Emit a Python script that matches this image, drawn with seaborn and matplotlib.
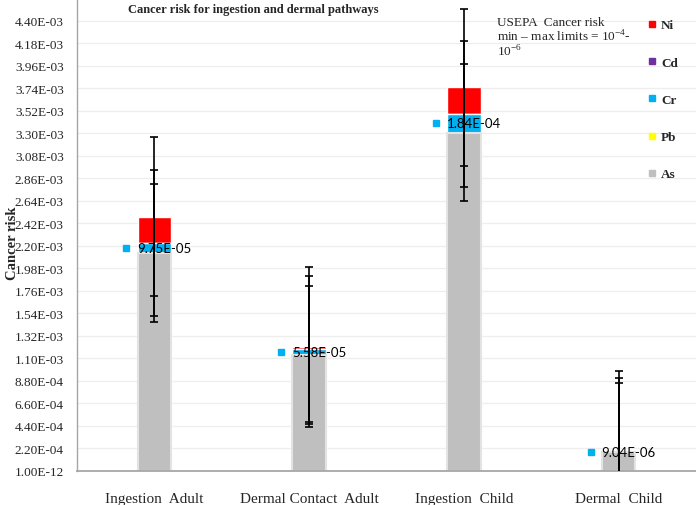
"""
plot.py

Stacked cancer risk bars (As, Pb, Cr, Cd, Ni) for ingestion and
dermal pathways, with error bars and Cr data labels.
"""

# =============================================================================
# IMPORTS
# =============================================================================

import numpy as np
import matplotlib
matplotlib.use("Agg")
import matplotlib.pyplot as plt
import matplotlib.transforms as mtransforms
from matplotlib.lines import Line2D
import seaborn as sns

# =============================================================================
# DATA
# =============================================================================

CATEGORIES = [
    "Ingestion  Adult",
    "Dermal Contact  Adult",
    "Ingestion  Child",
    "Dermal  Child",
]

# series values (stack order bottom -> top)
AS_RISK = [2.130e-3, 1.135e-3, 3.305e-3, 0.185e-3]
PB_RISK = [2.0e-6, 1.0e-6, 3.0e-6, 0.2e-6]
CR_RISK = [9.75e-5, 5.58e-5, 1.84e-4, 9.04e-6]
CD_RISK = [1.5e-6, 0.8e-6, 2.5e-6, 0.1e-6]
NI_RISK = [0.255e-3, 0.018e-3, 0.257e-3, 0.012e-3]

# error bar half widths (+/-) for As, Cr and Ni
AS_ERR = [0.674e-3, 0.675e-3, 0.670e-3, 0.675e-3]
CR_ERR = [0.713e-3, 0.710e-3, 0.711e-3, 0.710e-3]
NI_ERR = [0.777e-3, 0.780e-3, 0.767e-3, 0.770e-3]

CR_LABELS = ["9.75E-05", "5.58E-05", "1.84E-04", "9.04E-06"]

Y_TICKS = [1e-12] + [k * 2.2e-4 for k in range(1, 21)]

COLORS = {
    "As": "#BFBFBF",
    "Pb": "#FFFF00",
    "Cr": "#00B0F0",
    "Cd": "#7030A0",
    "Ni": "#FF0000",
}

# =============================================================================
# STYLE
# =============================================================================

sns.set_style("white")
plt.rcParams["font.family"] = ["Liberation Serif", "DejaVu Serif"]
plt.rcParams["mathtext.fontset"] = "custom"
plt.rcParams["mathtext.rm"] = "Liberation Serif"

W, H = 696, 506
fig = plt.figure(figsize=(W / 100, H / 100), dpi=100)

# plot area: left spine at x=77, bottom at y=472, top at image top
ax = fig.add_axes([77 / W, (H - 472) / H, (W - 77) / W, 472 / H])

BAR_WIDTH = 0.215

# =============================================================================
# STACKED BARS (drawn as cumulative overlapping bars)
# =============================================================================

as_v = np.array(AS_RISK)
pb_v = np.array(PB_RISK)
cr_v = np.array(CR_RISK)
cd_v = np.array(CD_RISK)
ni_v = np.array(NI_RISK)

cum_as = as_v
cum_pb = cum_as + pb_v
cum_cr = cum_pb + cr_v
cum_cd = cum_cr + cd_v
cum_ni = cum_cd + ni_v

layers = [
    (cum_ni, COLORS["Ni"], "white", 1.0),
    (cum_cd, COLORS["Cd"], "white", 1.0),
    (cum_cr, COLORS["Cr"], "white", 1.0),
    (cum_pb, COLORS["Pb"], "white", 1.0),
    (cum_as, COLORS["As"], "#E3E3E3", 1.5),
]

for values, color, edge, lw in layers:
    sns.barplot(
        x=CATEGORIES,
        y=values,
        color=color,
        saturation=1,
        width=BAR_WIDTH,
        edgecolor=edge,
        linewidth=lw,
        errorbar=None,
        ax=ax,
        zorder=2,
    )

# =============================================================================
# ERROR BARS
# =============================================================================

x_pos = np.arange(len(CATEGORIES))

for centers, errs in [
    (cum_as, AS_ERR),
    (cum_cr, CR_ERR),
    (cum_ni, NI_ERR),
]:
    ax.errorbar(
        x_pos,
        centers,
        yerr=errs,
        fmt="none",
        ecolor="black",
        elinewidth=1.2,
        capsize=2.6,
        capthick=1.2,
        zorder=3,
    )

# =============================================================================
# CR DATA LABELS
# =============================================================================

marker_tf = mtransforms.offset_copy(
    ax.transData, fig=fig, x=-28, y=0, units="dots"
)

for i, lab in enumerate(CR_LABELS):
    y = cum_pb[i] + cr_v[i] / 2
    ax.annotate(
        lab,
        xy=(x_pos[i], y),
        xytext=(-17, 0),
        textcoords="offset pixels",
        ha="left",
        va="center",
        fontsize=9.5,
        family=["Lato", "DejaVu Sans"],
        color="black",
        zorder=5,
    )
    ax.plot(
        [x_pos[i]],
        [y],
        marker="s",
        markersize=5,
        color=COLORS["Cr"],
        linestyle="none",
        transform=marker_tf,
        clip_on=False,
        zorder=5,
    )

# =============================================================================
# AXES
# =============================================================================

ax.set_xlim(-0.5, len(CATEGORIES) - 0.5)
ax.set_ylim(0, 4.614e-3)

ax.set_yticks(Y_TICKS)
ax.set_yticklabels(["%.2E" % v for v in Y_TICKS])
ax.yaxis.grid(True, color="#EEEEEE", linewidth=0.9, zorder=0)
ax.set_axisbelow(True)

ax.tick_params(axis="y", length=0, pad=9.5, labelsize=9.5,
               labelcolor="#262626")
ax.tick_params(axis="x", length=0, pad=15, labelsize=11,
               labelcolor="#262626")

for side in ["top", "right"]:
    ax.spines[side].set_visible(False)
ax.spines["left"].set_color("#A6A6A6")
ax.spines["bottom"].set_color("#A0A0A0")
ax.spines["left"].set_linewidth(1.0)
ax.spines["bottom"].set_linewidth(1.2)

ax.set_xlabel("")
ax.set_ylabel("Cancer risk", fontsize=10.5, fontweight="bold")
ax.yaxis.set_label_coords(-0.094, 0.485)

# =============================================================================
# TEXT
# =============================================================================

fig.text(128 / W, 1 - 13 / H,
         "Cancer risk for ingestion and dermal pathways",
         fontsize=9, fontweight="bold", va="baseline", ha="left")

fig.text(497 / W, 1 - 26.5 / H, "USEPA  Cancer risk",
         fontsize=9.5, va="baseline", ha="left")
fig.text(497 / W, 1 - 42 / H,
         r"min – max limits = 10$^{\mathregular{-4}}$-",
         fontsize=9.5, va="baseline", ha="left")
fig.text(497 / W, 1 - 57 / H, r"10$^{\mathregular{-6}}$",
         fontsize=9.5, va="baseline", ha="left")

# =============================================================================
# LEGEND
# =============================================================================

legend_order = ["Ni", "Cd", "Cr", "Pb", "As"]

handles = [
    Line2D([0], [0], marker="s", linestyle="none", markersize=5,
           color=COLORS[name], label=name)
    for name in legend_order
]

leg = fig.legend(
    handles=handles,
    loc="upper left",
    bbox_to_anchor=(648 / W, 1 - 20 / H),
    frameon=False,
    borderpad=0,
    borderaxespad=0,
    handlelength=0.6,
    handletextpad=0.4,
    labelspacing=1.9,
    prop={"family": "Liberation Serif", "weight": "bold", "size": 9.5},
)

# =============================================================================
# SAVE
# =============================================================================

fig.savefig("out.png", dpi=100)
plt.close(fig)
